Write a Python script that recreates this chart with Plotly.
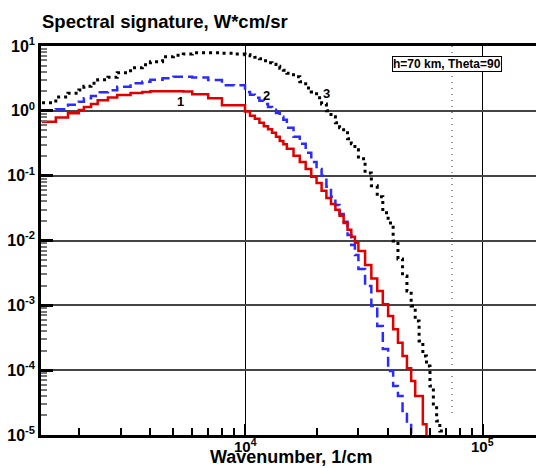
import math
import plotly.graph_objects as go

# Histogram bin edges, wavenumber in 1/cm
edges = [1400, 1600, 1800, 2000, 2100, 2250, 2400, 2650, 2900, 3300, 3700,
         4000, 4500, 5000, 5500, 6000, 7000, 8000, 9000, 10000,
         10500, 11000, 11500, 12000, 12500, 13000, 13500, 14000, 14500, 15000,
         16000, 17000, 18000, 19000, 20000, 21000, 22000, 23000, 24000, 25000,
         26000, 27000, 28000, 29000, 30000,
         32000, 34000, 36000, 38000, 40000, 42000, 44000, 46000, 48000, 50000,
         52000, 54000, 56000, 58000, 60000, 62000, 64000, 66000, 68000, 70000]

# Spectral signature per bin, W*cm/sr
curve1 = [0.68, 0.79, 0.92, 1.03, 1.15, 1.28, 1.46, 1.60, 1.75, 1.88, 1.95,
          2.0, 2.0, 2.0, 1.98, 1.81, 1.57, 1.22, 1.22,
          0.98, 0.837, 0.753, 0.653, 0.577, 0.518, 0.458, 0.397, 0.344, 0.304,
          0.259, 0.202, 0.163, 0.127, 0.0958, 0.0774, 0.0583, 0.0454, 0.0367,
          0.0297, 0.0240, 0.0187, 0.0146, 0.0114, 0.0092,
          6.9e-3, 4.2e-3, 2.6e-3, 1.67e-3, 1.04e-3, 6.85e-4, 4.28e-4, 2.65e-4,
          1.66e-4, 1.07e-4, 6.8e-5, 4.0e-5, 4.0e-5, 1.46e-5, 4e-6, 2e-6, 1e-6,
          5e-7, 2e-7, 1e-7]

curve2 = [1.0, 1.06, 1.24, 1.38, 1.56, 1.70, 1.93, 2.07, 2.35, 2.66, 2.80,
          3.01, 3.17, 3.35, 3.35, 3.27, 2.98, 2.49, 2.47,
          1.96, 1.77, 1.59, 1.43, 1.28, 1.15, 1.04, 0.93, 0.81, 0.73,
          0.547, 0.397, 0.31, 0.225, 0.163, 0.127, 0.1, 0.0672, 0.0471,
          0.0354, 0.0257, 0.0194, 0.0122, 0.00855, 0.006,
          3.65e-3, 1.99e-3, 9.8e-4, 4.8e-4, 2.12e-4, 9.7e-5, 5.7e-5, 4.0e-5,
          2.35e-5, 1.53e-5, 5e-6, 2e-6, 1e-6, 5e-7, 2e-7, 1e-7, 5e-8, 2e-8,
          1e-8, 5e-9]

curve3 = [1.33, 1.64, 1.86, 2.09, 2.39, 2.66, 3.01, 3.29, 3.86, 4.61, 5.13,
          5.70, 6.81, 7.18, 7.50, 7.85, 7.85, 7.71, 7.50,
          7.31, 7.06, 6.69, 6.34, 5.91, 5.51, 5.22, 4.86, 4.53, 4.22,
          3.79, 3.35, 2.80, 2.26, 1.96, 1.59, 1.28, 1.0, 0.81, 0.653,
          0.547, 0.458, 0.37, 0.31, 0.25,
          0.182, 0.11, 0.0696, 0.0471, 0.0267, 0.0187, 0.00986, 0.0052,
          0.00284, 0.00167, 9.8e-4, 5.74e-4, 2.82e-4, 1.66e-4, 1.16e-4,
          5.7e-5, 3.0e-5, 1.64e-5, 1.15e-5, 4e-6]

# Curve labels: text, wavenumber, value
curve_labels = [("1", 5350, 1.38), ("2", 12300, 1.73), ("3", 22000, 1.83)]

y_tick_vals = [1e-5, 1e-4, 1e-3, 1e-2, 1e-1, 1e0, 1e1]
y_tick_text = ["10<sup>-5</sup>", "10<sup>-4</sup>", "10<sup>-3</sup>",
               "10<sup>-2</sup>", "10<sup>-1</sup>", "10<sup>0</sup>",
               "10<sup>1</sup>"]
x_tick_vals = [1e4, 1e5]
x_tick_text = ["10<sup>4</sup>", "10<sup>5</sup>"]

FONT = "Arial, 'Liberation Sans', sans-serif"

# plot-area geometry in pixels
L, T, B, W_PLOT, H_PLOT = 41, 46, 434.7, 495, 388.7


def steps(values):
    # closes the last bin at its right edge
    return edges, values + [values[-1]]


fig = go.Figure()

styles = [
    (curve3, dict(color="black", width=3, dash="3px,4px")),
    (curve2, dict(color="#2b2bff", width=2.5, dash="10px,5px")),
    (curve1, dict(color="#e00000", width=2.5)),
]
for vals, line in styles:
    xs, ys = steps(vals)
    fig.add_trace(go.Scatter(x=xs, y=ys, mode="lines", line_shape="hv",
                             line=line, showlegend=False, hoverinfo="skip"))

# minor tick positions (2..9 per decade)
x_minor = [m * 10 ** d for d in (3, 4, 5) for m in range(2, 10)]
y_minor = [m * 10.0 ** d for d in range(-5, 1) for m in range(2, 10)]

fig.update_xaxes(
    type="log", range=[3.1418, 5.2242],
    tickmode="array", tickvals=x_tick_vals, showticklabels=False,
    ticks="inside", ticklen=11, tickwidth=2, tickcolor="black",
    showline=True, linewidth=2.5, linecolor="black", mirror=True,
    showgrid=True, gridcolor="black", gridwidth=1.2,
    minor=dict(tickmode="array", tickvals=x_minor, ticks="inside",
               ticklen=7, tickwidth=1.5, tickcolor="black", showgrid=False),
    zeroline=False,
)
fig.update_yaxes(
    type="log", range=[-5, 1],
    tickmode="array", tickvals=y_tick_vals, ticktext=y_tick_text,
    ticks="inside", ticklen=12, tickwidth=2.5, tickcolor="black",
    showline=True, linewidth=2.5, linecolor="black", mirror=False,
    showgrid=True, gridcolor="#444444", gridwidth=1.5,
    tickfont=dict(family=FONT, size=16, color="black", weight="bold"),
    minor=dict(tickmode="array", tickvals=y_minor, ticks="inside",
               ticklen=6, tickwidth=1.5, tickcolor="#777777", showgrid=False),
    zeroline=False,
)

# x tick labels placed tight under the axis (annotations on log axes take log10 units)
for xv, txt in zip(x_tick_vals, x_tick_text):
    fig.add_annotation(x=math.log10(xv), xref="x", yref="paper",
                       y=(B - 435) / H_PLOT,
                       text=txt, showarrow=False, xanchor="center",
                       yanchor="top", borderpad=0,
                       font=dict(family=FONT, size=15, color="black",
                                 weight="bold"))

# dotted reference line
fig.add_shape(type="line", xref="x", yref="y", x0=74300, x1=74300,
              y0=10, y1=2e-5, line=dict(color="#333333", width=1, dash="1px,5px"))

for txt, xv, yv in curve_labels:
    fig.add_annotation(x=math.log10(xv), y=math.log10(yv), xref="x", yref="y",
                       text=txt, showarrow=False,
                       font=dict(family=FONT, size=13, color="black",
                                 weight="bold"))

fig.add_annotation(
    xref="paper", yref="paper",
    x=(447 - L) / W_PLOT, y=(B - 64) / H_PLOT,
    xanchor="center", yanchor="middle",
    text="h=70 km, Theta=90", showarrow=False,
    font=dict(family=FONT, size=12, color="black", weight="bold"),
    bgcolor="white", bordercolor="black", borderwidth=1, borderpad=0,
)

fig.add_annotation(
    xref="paper", yref="paper",
    x=(290.5 - L) / W_PLOT, y=(B - 468) / H_PLOT,
    xanchor="center", yanchor="bottom", borderpad=0,
    text="Wavenumber, 1/cm", showarrow=False,
    font=dict(family=FONT, size=18, color="black", weight="bold"),
)

fig.update_layout(
    width=536, height=468,
    margin=dict(l=L, r=0, t=T, b=468 - B),
    paper_bgcolor="white", plot_bgcolor="white",
    title=dict(text="Spectral signature, W*cm/sr", x=42 / 536, xref="container",
               xanchor="left", y=1 - 21.7 / 468, yref="container",
               yanchor="middle",
               font=dict(family=FONT, size=18.5, color="black", weight="bold")),
)

fig.write_html("out.html")
